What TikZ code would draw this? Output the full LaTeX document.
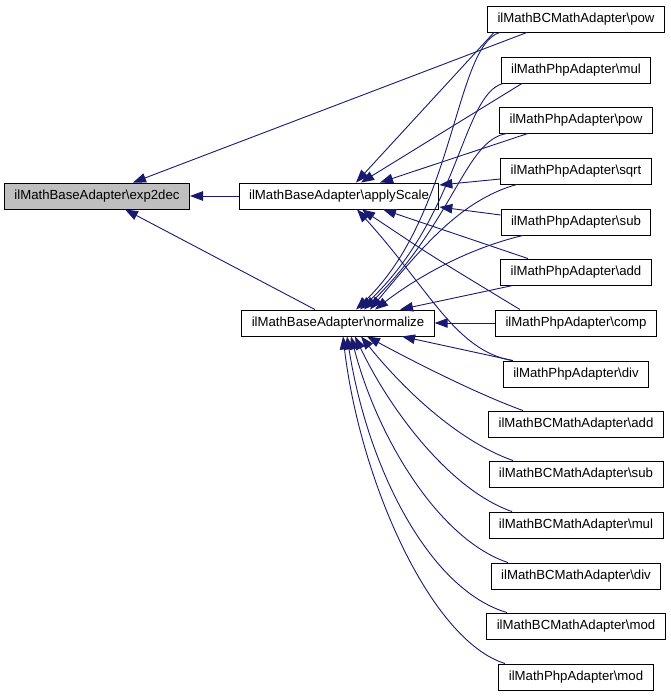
\documentclass[tikz,border=0pt]{standalone}
\usepackage{fontspec}
\setmainfont{Liberation Sans}
\usetikzlibrary{arrows.meta}
\definecolor{edgeblue}{HTML}{191970}
\definecolor{focusgray}{HTML}{BFBFBF}
\tikzset{
    box/.style = {draw=black, line width=0.9pt, fill=white, minimum height=26pt, inner xsep=10pt, inner ysep=0pt, font=\fontsize{13.2}{15}\selectfont},
    callarrow/.style = {draw=edgeblue, line width=0.9pt, {Triangle[length=13pt,width=9.5pt]}-}
}
\begin{document}
\begin{tikzpicture}[x=1pt, y=-1pt]
        \useasboundingbox (0,0) rectangle (671,696);
        % callers, right column
        \node[box] (BCpow) at(576,19){ilMathBCMathAdapter\textbackslash pow};
        \node[box] (Pmul) at(576,70){ilMathPhpAdapter\textbackslash mul};
        \node[box] (Ppow) at(576,120){ilMathPhpAdapter\textbackslash pow};
        \node[box] (Psqrt) at(576,171){ilMathPhpAdapter\textbackslash sqrt};
        \node[box] (Psub) at(576,222){ilMathPhpAdapter\textbackslash sub};
        \node[box] (Padd) at(576,272){ilMathPhpAdapter\textbackslash add};
        \node[box] (Pcomp) at(576,323){ilMathPhpAdapter\textbackslash comp};
        \node[box] (Pdiv) at(576,374){ilMathPhpAdapter\textbackslash div};
        \node[box] (BCadd) at(576,424){ilMathBCMathAdapter\textbackslash add};
        \node[box] (BCsub) at(576,474){ilMathBCMathAdapter\textbackslash sub};
        \node[box] (BCmul) at(576,525){ilMathBCMathAdapter\textbackslash mul};
        \node[box] (BCdiv) at(576,576){ilMathBCMathAdapter\textbackslash div};
        \node[box] (BCmod) at(576,626){ilMathBCMathAdapter\textbackslash mod};
        \node[box] (Pmod) at(576,677){ilMathPhpAdapter\textbackslash mod};
        % base adapter
        \node[box, fill=focusgray] (exp2dec) at(97,196){ilMathBaseAdapter\textbackslash exp2dec};
        \node[box] (applyScale) at(339,196){ilMathBaseAdapter\textbackslash applyScale};
        \node[box] (normalize) at(338,323){ilMathBaseAdapter\textbackslash normalize};
        % into exp2dec
        \draw[callarrow] (exp2dec.east) -- (applyScale.west);
        \draw[callarrow] ([xshift=36pt]exp2dec.north) -- ([xshift=-49pt]BCpow.south);
        \draw[callarrow] ([xshift=28pt]exp2dec.south) -- ([xshift=-23pt]normalize.north);
        % into applyScale
        \draw[callarrow] ([xshift=17pt]applyScale.north) -- ([xshift=-82pt]BCpow.south);
        \draw[callarrow] ([xshift=22pt]applyScale.north) -- ([xshift=-54pt]Pmul.south);
        \draw[callarrow] ([xshift=41pt]applyScale.north) -- ([xshift=-48pt]Ppow.south);
        \draw[callarrow] ([yshift=11pt]applyScale.east) -- ([yshift=-8pt]Psqrt.west);
        \draw[callarrow] ([yshift=-11pt]applyScale.east) -- ([yshift=7pt]Psub.west);
        \draw[callarrow] ([xshift=44pt]applyScale.south) -- ([xshift=-48pt]Padd.north);
        \draw[callarrow] ([xshift=23pt]applyScale.south) .. controls (430,255) .. ([xshift=-56pt]Pcomp.north);
        \draw[callarrow] ([xshift=18pt]applyScale.south) .. controls (430,290) and (455,350) .. ([xshift=-64pt]Pdiv.north);
        % into normalize, from above
        \draw[callarrow] ([xshift=18pt]normalize.north) .. controls (455,215) and (455,45) .. ([xshift=-76pt]BCpow.south);
        \draw[callarrow] ([xshift=22pt]normalize.north) .. controls (460,215) and (462,95) .. ([xshift=-73pt]Pmul.south);
        \draw[callarrow] ([xshift=26pt]normalize.north) .. controls (455,220) and (465,140) .. ([xshift=-69pt]Ppow.south);
        \draw[callarrow] ([xshift=32pt]normalize.north) .. controls (420,250) and (460,200) .. ([xshift=-59pt]Psqrt.south);
        \draw[callarrow] ([xshift=37pt]normalize.north) .. controls (420,275) and (470,248) .. ([xshift=-53pt]Psub.south);
        \draw[callarrow] ([xshift=62pt]normalize.north) -- ([xshift=-63pt]Padd.south);
        \draw[callarrow] (normalize.east) -- (Pcomp.west);
        % into normalize, from below
        \draw[callarrow] ([xshift=64pt]normalize.south) -- ([xshift=-63pt]Pdiv.north);
        \draw[callarrow] ([xshift=29pt]normalize.south) .. controls (420,365) and (480,395) .. ([xshift=-53pt]BCadd.north);
        \draw[callarrow] ([xshift=23pt]normalize.south) .. controls (400,385) and (455,440) .. ([xshift=-63pt]BCsub.north);
        \draw[callarrow] ([xshift=17pt]normalize.south) .. controls (390,410) and (450,490) .. ([xshift=-64pt]BCmul.north);
        \draw[callarrow] ([xshift=13pt]normalize.south) .. controls (378,440) and (440,540) .. ([xshift=-68pt]BCdiv.north);
        \draw[callarrow] ([xshift=9pt]normalize.south) .. controls (368,470) and (430,590) .. ([xshift=-69pt]BCmod.north);
        \draw[callarrow] ([xshift=5pt]normalize.south) .. controls (360,480) and (430,640) .. ([xshift=-71pt]Pmod.north);
\end{tikzpicture}
\end{document}
